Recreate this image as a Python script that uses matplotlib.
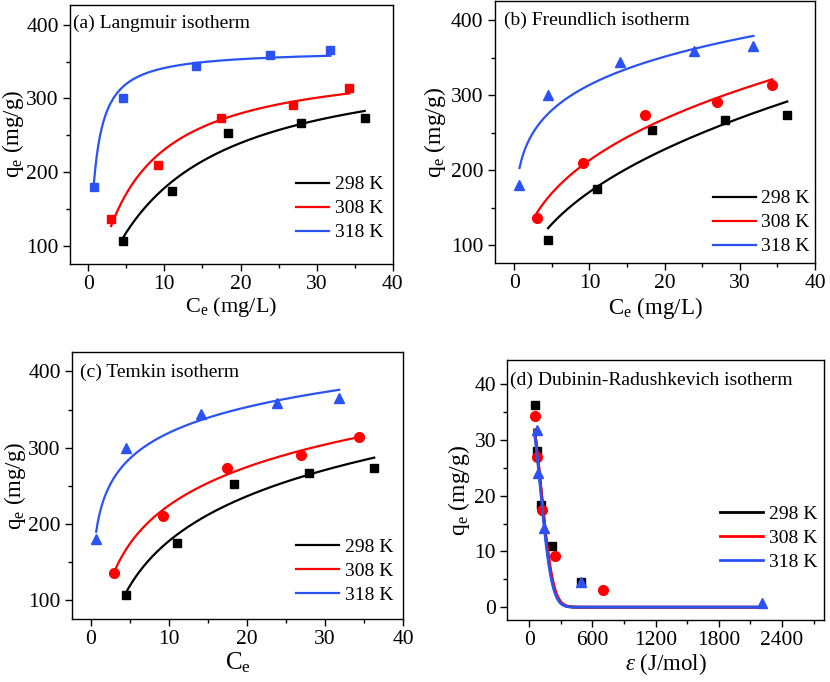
import numpy as np
import matplotlib
matplotlib.use("Agg")
import matplotlib.pyplot as plt
from matplotlib.ticker import MultipleLocator

plt.rcParams["font.family"] = ["Liberation Serif", "DejaVu Serif"]
plt.rcParams["mathtext.fontset"] = "custom"
plt.rcParams["mathtext.rm"] = "Liberation Serif"
plt.rcParams["mathtext.it"] = "Liberation Serif:italic"
plt.rcParams["font.size"] = 14

temps = ["298 K", "308 K", "318 K"]
colors = ["black", "#ff0000", "#2a52f5"]

# equilibrium data, qe vs Ce
ce_298 = [4.5, 11.0, 18.3, 28.0, 36.3]
qe_298 = [107, 175, 253, 267, 273]
ce_308 = [3.0, 9.2, 17.4, 26.9, 34.3]
qe_308 = [136, 210, 274, 291, 314]
ce_318 = [0.7, 4.5, 14.1, 23.9, 31.8]
qe_318 = [180, 300, 344, 359, 365]

# D-R data, qe vs epsilon
eps_298 = [54, 70, 108, 213, 488]
qdr_298 = [36.3, 28.0, 18.3, 10.9, 4.5]
eps_308 = [54, 76, 124, 244, 704]
qdr_308 = [34.2, 27.0, 17.4, 9.1, 3.0]
eps_318 = [70, 86, 140, 488, 2210]
qdr_318 = [31.8, 24.0, 14.2, 4.5, 0.8]

# fitted model parameters
lang_qm = [364, 355, 366]
lang_kl = [0.0962, 0.1855, 1.381]
freu_kf = [65.9, 99.3, 215.2]
freu_n_inv = [0.414, 0.332, 0.1636]
temk_b = [84.8, 72.6, 48.7]
temk_a = [0.813, 2.2, 70.7]
dr_qm = [35.3, 35.0, 34.8]
dr_beta = [4.2e-5, 4.0e-5, 4.4e-5]

ce_all = [ce_298, ce_308, ce_318]
qe_all = [qe_298, qe_308, qe_318]
eps_all = [eps_298, eps_308, eps_318]
qdr_all = [qdr_298, qdr_308, qdr_318]


def style_axes(ax, xmaj, xmin, ymaj, ymin):
    ax.xaxis.set_major_locator(MultipleLocator(xmaj))
    ax.xaxis.set_minor_locator(MultipleLocator(xmin))
    ax.yaxis.set_major_locator(MultipleLocator(ymaj))
    ax.yaxis.set_minor_locator(MultipleLocator(ymin))
    ax.tick_params(which="major", direction="out", length=5, width=1, top=False, right=False,
                   pad=3, labelsize=15.5)
    ax.tick_params(which="minor", direction="out", length=3, width=1, top=False, right=False)
    for s in ax.spines.values():
        s.set_linewidth(1)


def add_legend(ax, x, y, hl=2.2):
    ax.legend(frameon=False, loc="lower right", bbox_to_anchor=(x, y), borderaxespad=0,
              handlelength=hl, handletextpad=0.3, labelspacing=0.33, fontsize=14)


fig = plt.figure(figsize=(8.3, 6.82), dpi=100)
ax_a = fig.add_axes([0.0843, 0.613, 0.389, 0.380])
ax_b = fig.add_axes([0.596, 0.614, 0.386, 0.384])
ax_c = fig.add_axes([0.0867, 0.0924, 0.399, 0.391])
ax_d = fig.add_axes([0.611, 0.0909, 0.382, 0.381])

markers_bcd = ["s", "o", "^"]
msizes = [6, 7, 7]

# (a) Langmuir
for i in range(3):
    c = np.linspace(ce_all[i][0], ce_all[i][-1], 300)
    q = lang_qm[i] * lang_kl[i] * c / (1 + lang_kl[i] * c)
    ax_a.plot(c, q, color=colors[i], lw=1.6, label=temps[i])
    ax_a.plot(ce_all[i], qe_all[i], "s", color=colors[i], ms=6, ls="none")
ax_a.set_xlim(-2.4, 40)
ax_a.set_ylim(75.5, 427)
style_axes(ax_a, 10, 5, 100, 50)
ax_a.set_xlabel(r"C$_{\mathregular{e}}$ (mg/L)", fontsize=16, labelpad=1)
ax_a.set_ylabel(r"q$_{\mathregular{e}}$ (mg/g)", fontsize=16.5, labelpad=0)
ax_a.text(0.008, 0.93, "(a) Langmuir isotherm", transform=ax_a.transAxes, va="center", ha="left", fontsize=14)
add_legend(ax_a, 0.995, 0.057, hl=1.7)

# (b) Freundlich
for i in range(3):
    c = np.linspace(ce_all[i][0], ce_all[i][-1], 300)
    q = freu_kf[i] * c ** freu_n_inv[i]
    ax_b.plot(c, q, color=colors[i], lw=1.6, label=temps[i])
    ax_b.plot(ce_all[i], qe_all[i], markers_bcd[i], color=colors[i], ms=msizes[i], ls="none")
ax_b.set_xlim(-2.6, 40)
ax_b.set_ylim(76, 425)
style_axes(ax_b, 10, 5, 100, 50)
ax_b.set_xlabel(r"C$\mathregular{_e}$ (mg/L)", fontsize=16.5, labelpad=1)
ax_b.set_ylabel(r"q$\mathregular{_e}$ (mg/g)", fontsize=17, labelpad=2)
ax_b.text(0.028, 0.927, "(b) Freundlich isotherm", transform=ax_b.transAxes, va="center", ha="left", fontsize=14)
add_legend(ax_b, 1.008, 0.0)

# (c) Temkin
for i in range(3):
    c = np.linspace(ce_all[i][0], ce_all[i][-1], 300)
    q = temk_b[i] * np.log(temk_a[i] * c)
    ax_c.plot(c, q, color=colors[i], lw=1.6, label=temps[i])
    ax_c.plot(ce_all[i], qe_all[i], markers_bcd[i], color=colors[i], ms=msizes[i], ls="none")
ax_c.set_xlim(-2.4, 40)
ax_c.set_ylim(75.7, 425)
style_axes(ax_c, 10, 5, 100, 50)
ax_c.set_xlabel(r"C$\mathregular{_e}$", fontsize=18, labelpad=1)
ax_c.set_ylabel(r"q$\mathregular{_e}$ (mg/g)", fontsize=16.5, labelpad=0)
ax_c.text(0.024, 0.925, "(c) Temkin isotherm", transform=ax_c.transAxes, va="center", ha="left", fontsize=14)
add_legend(ax_c, 0.994, 0.028)

# (d) Dubinin-Radushkevich
for i in range(3):
    e = np.linspace(50, 2210, 600)
    q = dr_qm[i] * np.exp(-dr_beta[i] * e ** 2)
    ax_d.plot(e, q, color=colors[i], lw=2.0, label=temps[i])
    ax_d.plot(eps_all[i], qdr_all[i], markers_bcd[i], color=colors[i], ms=msizes[i], ls="none")
ax_d.set_xlim(-210, 2800)
ax_d.set_ylim(-2.3, 44.3)
style_axes(ax_d, 600, 300, 10, 5)
ax_d.set_xlabel(r"$\varepsilon$ (J/mol)", fontsize=16.5, labelpad=1)
ax_d.set_ylabel(r"q$\mathregular{_e}$ (mg/g)", fontsize=17, labelpad=2)
ax_d.text(0.01, 0.923, "(d) Dubinin-Radushkevich isotherm", transform=ax_d.transAxes, va="center", ha="left", fontsize=14)
add_legend(ax_d, 1.002, 0.158)

fig.savefig("out.png", dpi=100)
